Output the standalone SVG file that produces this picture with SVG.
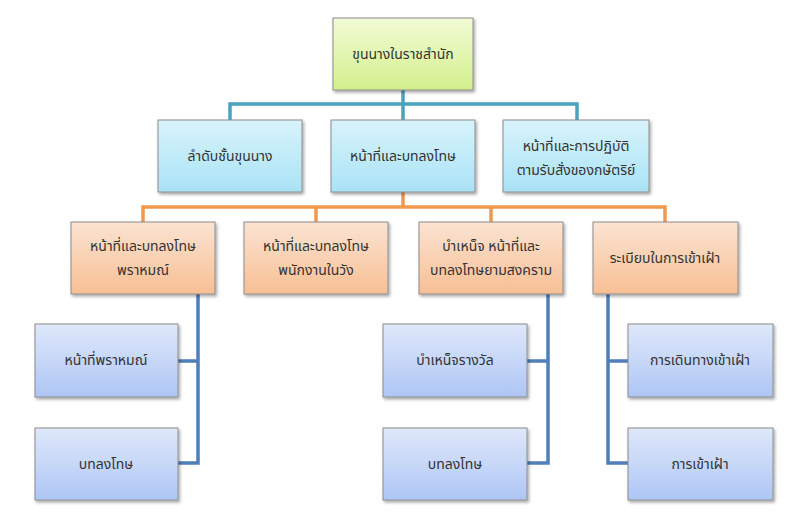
<svg xmlns="http://www.w3.org/2000/svg" width="800" height="522" viewBox="0 0 800 522">
<defs>
<linearGradient id="gG" x1="0" y1="0" x2="0" y2="1"><stop offset="0" stop-color="#f2fbd6"/><stop offset="1" stop-color="#d3f08c"/></linearGradient>
<linearGradient id="gC" x1="0" y1="0" x2="0" y2="1"><stop offset="0" stop-color="#d8f3fb"/><stop offset="1" stop-color="#a9e3f6"/></linearGradient>
<linearGradient id="gO" x1="0" y1="0" x2="0" y2="1"><stop offset="0" stop-color="#fbe3d2"/><stop offset="1" stop-color="#f7bf94"/></linearGradient>
<linearGradient id="gB" x1="0" y1="0" x2="0" y2="1"><stop offset="0" stop-color="#dfe8fb"/><stop offset="1" stop-color="#aec6f4"/></linearGradient>
<filter id="sh" x="-10%" y="-10%" width="125%" height="130%"><feDropShadow dx="1.5" dy="2" stdDeviation="1.5" flood-color="#000" flood-opacity="0.35"/></filter>
</defs>
<style>
rect{stroke:#8c8c8c;stroke-width:1;filter:url(#sh)}
text{font-family:"Noto Sans Thai","Noto Sans","DejaVu Sans",sans-serif;font-size:14px;fill:#333;text-anchor:middle}
.c{fill:none;stroke-width:3.5}
.t{stroke:#4aa3bd}.o{stroke:#f0994f}.b{stroke:#4f7fb8}
</style>
<rect width="800" height="522" fill="#fff" style="stroke:none;filter:none"/>
<g id="connectors">
<path class="c t" d="M403 90V104M230 120V104H577V120M403 104V120"/>
<path class="c o" d="M403 192V207M143 222V207H665V222M316 207V222M491 207V222"/>
<path class="c b" d="M198 294V463H178M198 361H178"/>
<path class="c b" d="M548 294V463H527M548 361H527"/>
<path class="c b" d="M608 294V463H628M608 361H628"/>
</g>
<g id="root"><rect x="333" y="18" width="140" height="72" fill="url(#gG)"/><text x="403" y="59">ขุนนางในราชสำนัก</text></g>
<g id="n1"><rect x="158" y="120" width="144" height="72" fill="url(#gC)"/><text x="230" y="161">ลำดับชั้นขุนนาง</text></g>
<g id="n2"><rect x="331" y="120" width="144" height="72" fill="url(#gC)"/><text x="403" y="161">หน้าที่และบทลงโทษ</text></g>
<g id="n3"><rect x="503" y="120" width="146" height="72" fill="url(#gC)"/><text x="576" y="151">หน้าที่และการปฏิบัติ</text><text x="576" y="175">ตามรับสั่งของกษัตริย์</text></g>
<g id="o1"><rect x="71" y="222" width="144" height="72" fill="url(#gO)"/><text x="143" y="251">หน้าที่และบทลงโทษ</text><text x="143" y="275">พราหมณ์</text></g>
<g id="o2"><rect x="244" y="222" width="144" height="72" fill="url(#gO)"/><text x="316" y="251">หน้าที่และบทลงโทษ</text><text x="316" y="275">พนักงานในวัง</text></g>
<g id="o3"><rect x="419" y="222" width="144" height="72" fill="url(#gO)"/><text x="491" y="251">บำเหน็จ หน้าที่และ</text><text x="491" y="275">บทลงโทษยามสงคราม</text></g>
<g id="o4"><rect x="593" y="222" width="145" height="72" fill="url(#gO)"/><text x="665" y="263">ระเบียบในการเข้าเฝ้า</text></g>
<g id="b1"><rect x="35" y="324" width="143" height="73" fill="url(#gB)"/><text x="106" y="365">หน้าที่พราหมณ์</text></g>
<g id="b2"><rect x="35" y="428" width="143" height="72" fill="url(#gB)"/><text x="106" y="469">บทลงโทษ</text></g>
<g id="b3"><rect x="383" y="324" width="144" height="73" fill="url(#gB)"/><text x="455" y="365">บำเหน็จรางวัล</text></g>
<g id="b4"><rect x="383" y="428" width="144" height="72" fill="url(#gB)"/><text x="455" y="469">บทลงโทษ</text></g>
<g id="b5"><rect x="628" y="324" width="145" height="73" fill="url(#gB)"/><text x="700" y="365">การเดินทางเข้าเฝ้า</text></g>
<g id="b6"><rect x="628" y="428" width="145" height="72" fill="url(#gB)"/><text x="700" y="469">การเข้าเฝ้า</text></g>
</svg>
